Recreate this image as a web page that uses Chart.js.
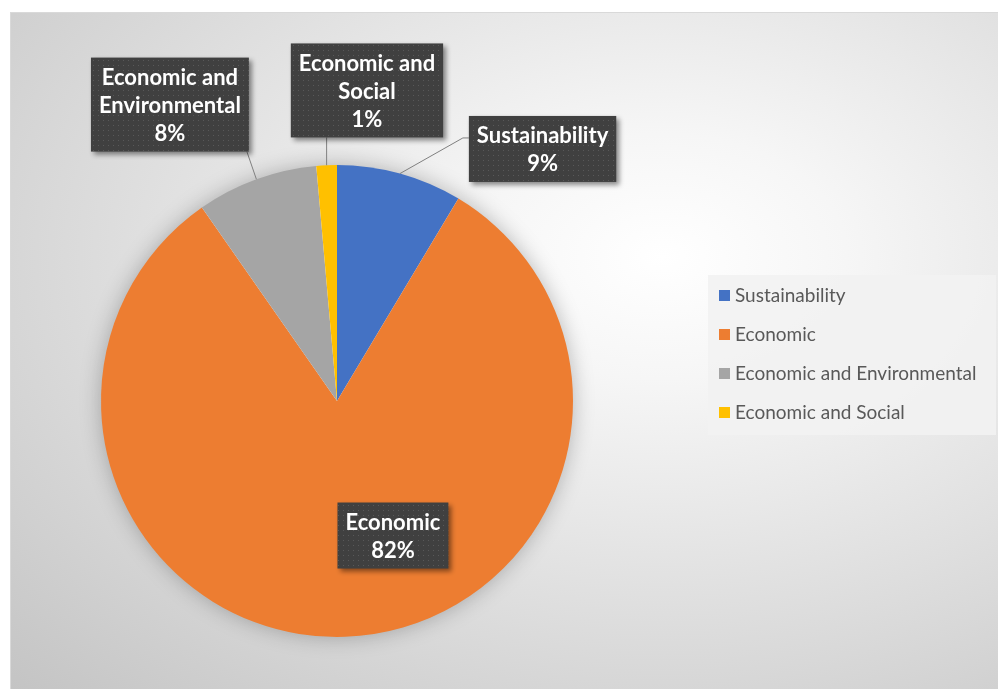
<!DOCTYPE html>
<html>
<head>
<meta charset="utf-8">
<title>Pie chart</title>
<script src="https://cdn.jsdelivr.net/npm/chart.js@4.4.0/dist/chart.umd.min.js"></script>
<style>
    html, body { margin: 0; padding: 0; background: #ffffff; }
    #frame {
        position: absolute; left: 10px; top: 12px;
        width: 987px; height: 676px;
        border-top: 1px solid #d9d9d9; border-left: 1px solid #d9d9d9;
        background: radial-gradient(ellipse at 66% 36%, #ffffff 0%, #f6f6f6 20%, #c4c4c4 100%);
    }
</style>
</head>
<body>
<div id="frame"><canvas id="pieChart"></canvas></div>
<script>
// Chart data
const categories = ["Sustainability", "Economic", "Economic and Environmental", "Economic and Social"];
const shares = [8.6, 81.7, 8.3, 1.4];
const sliceColors = ["#4472C4", "#ED7D31", "#A5A5A5", "#FFC000"];

// Where each data label box sits, relative to the pie centre (in radius units)
const labelSpots = [
    { dx: 0.871, dy: -1.068, side: "left" },
    { dx: 0.237, dy: 0.570, side: "none" },
    { dx: -0.708, dy: -1.256, side: "bottom" },
    { dx: 0.127, dy: -1.316, side: "bottom" }
];

const labelFont = "bold 22px Lato";
const legendFont = "19px Lato";

// Split a label into lines no wider than maxWidth
function wrapText(ctx, text, maxWidth) {
    const words = text.split(" ");
    const lines = [];
    let line = "";
    words.forEach((word) => {
        const test = line ? line + " " + word : word;
        if (line && ctx.measureText(test).width > maxWidth) {
            lines.push(line);
            line = word;
        } else {
            line = test;
        }
    });
    lines.push(line);
    return lines;
}

// Dark dotted fill used by the label boxes
function makeDotPattern(ctx) {
    const tile = document.createElement("canvas");
    tile.width = 5;
    tile.height = 5;
    const t = tile.getContext("2d");
    t.fillStyle = "#404040";
    t.fillRect(0, 0, 5, 5);
    t.fillStyle = "#595959";
    t.fillRect(2, 2, 1, 1);
    return ctx.createPattern(tile, "repeat");
}

// Soft shadow under the whole pie
const pieShadow = {
    id: "pieShadow",
    beforeDatasetsDraw(chart) {
        const arc = chart.getDatasetMeta(0).data[0];
        if (!arc) return;
        const ctx = chart.ctx;
        ctx.save();
        ctx.shadowColor = "rgba(0, 0, 0, 0.28)";
        ctx.shadowBlur = 22;
        ctx.fillStyle = "#ffffff";
        ctx.beginPath();
        ctx.arc(arc.x, arc.y, arc.outerRadius - 1, 0, Math.PI * 2);
        ctx.fill();
        ctx.restore();
    }
};

// Data labels in dark boxes with leader lines
const boxLabels = {
    id: "boxLabels",
    afterDatasetsDraw(chart) {
        const ctx = chart.ctx;
        const meta = chart.getDatasetMeta(0);
        const values = chart.data.datasets[0].data;
        const total = values.reduce((a, b) => a + b, 0);
        const pattern = makeDotPattern(ctx);
        const lineH = 28;
        const padX = 8;
        const padY = 5;

        meta.data.forEach((arc, i) => {
            const spot = labelSpots[i];
            const r = arc.outerRadius;
            ctx.save();
            ctx.font = labelFont;
            const lines = wrapText(ctx, chart.data.labels[i], 160);
            lines.push(Math.round(values[i] / total * 100) + "%");
            const w = Math.max(...lines.map((l) => ctx.measureText(l).width)) + padX * 2;
            const h = lines.length * lineH + padY * 2;
            const cx = arc.x + spot.dx * r;
            const cy = arc.y + spot.dy * r;
            const box = { left: cx - w / 2, top: cy - h / 2, right: cx + w / 2, bottom: cy + h / 2 };

            // leader line from the slice edge
            const mid = (arc.startAngle + arc.endAngle) / 2;
            const px = arc.x + Math.cos(mid) * r;
            const py = arc.y + Math.sin(mid) * r;
            ctx.strokeStyle = "#7f7f7f";
            ctx.lineWidth = 1;
            if (spot.side === "bottom") {
                const ex = Math.min(Math.max(px, box.left + 2), box.right - 2);
                ctx.beginPath();
                ctx.moveTo(px, py);
                ctx.lineTo(ex, box.bottom);
                ctx.stroke();
            } else if (spot.side === "left") {
                const ey = box.top + h / 3;
                ctx.beginPath();
                ctx.moveTo(px, py);
                ctx.lineTo(box.left - 6, ey);
                ctx.lineTo(box.left, ey);
                ctx.stroke();
            }

            // box with drop shadow
            ctx.shadowColor = "rgba(0, 0, 0, 0.45)";
            ctx.shadowBlur = 5;
            ctx.shadowOffsetX = 3;
            ctx.shadowOffsetY = 3;
            ctx.fillStyle = pattern;
            ctx.fillRect(box.left, box.top, w, h);
            ctx.shadowColor = "transparent";

            ctx.fillStyle = "#ffffff";
            ctx.textAlign = "center";
            ctx.textBaseline = "middle";
            lines.forEach((line, k) => {
                ctx.fillText(line, cx, box.top + padY + lineH * (k + 0.5) + 1);
            });
            ctx.restore();
        });
    }
};

// Legend drawn in its own light panel on the right
const sideLegend = {
    id: "sideLegend",
    afterDraw(chart) {
        const ctx = chart.ctx;
        const panel = { left: 697, top: 262, width: 288, height: 160 };
        const rowGap = 39;
        ctx.save();
        ctx.fillStyle = "rgba(242, 242, 242, 0.9)";
        ctx.fillRect(panel.left, panel.top, panel.width, panel.height);
        ctx.font = legendFont;
        ctx.textBaseline = "middle";
        ctx.textAlign = "left";
        chart.data.labels.forEach((label, i) => {
            const y = panel.top + 20 + i * rowGap;
            ctx.fillStyle = chart.data.datasets[0].backgroundColor[i];
            ctx.fillRect(panel.left + 11, y - 5, 11, 11);
            ctx.fillStyle = "#595959";
            ctx.fillText(label, panel.left + 27, y + 1);
        });
        ctx.restore();
    }
};

const ctx = document.getElementById("pieChart").getContext("2d");
const pieChart = new Chart(ctx, {
    type: "pie",
    data: {
        labels: categories,
        datasets: [
            {
                data: shares,
                backgroundColor: sliceColors,
                borderWidth: 0
            }
        ]
    },
    options: {
        responsive: true,
        maintainAspectRatio: false,
        animation: false,
        layout: {
            padding: { left: 90, top: 152, right: 425, bottom: 52 }
        },
        plugins: {
            legend: { display: false },
            tooltip: { enabled: false }
        }
    },
    plugins: [pieShadow, boxLabels, sideLegend]
});
</script>
</body>
</html>
